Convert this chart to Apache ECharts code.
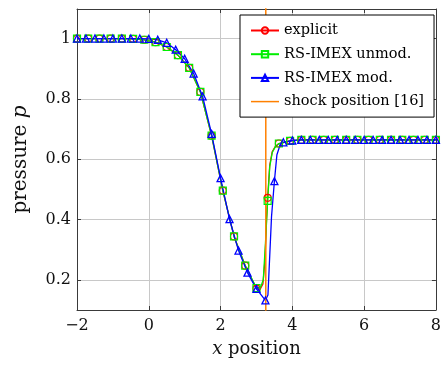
<!DOCTYPE html>
<html><head><meta charset="utf-8">
<script src="https://cdn.jsdelivr.net/npm/echarts@6/dist/echarts.min.js"></script>
<style>html,body{margin:0;padding:0;background:#fff}#c{width:444px;height:369px}</style>
</head><body><div id="c"></div>
<script>
// ---- data ----
const seriesNames = ['explicit', 'RS-IMEX unmod.', 'RS-IMEX mod.', 'shock position [16]'];
const xTickValues = [-2, 0, 2, 4, 6, 8];
const yTickValues = [0.2, 0.4, 0.6, 0.8, 1];

// marker positions for explicit / RS-IMEX unmod.
const squareX = [-2, -1.6875, -1.375, -1.0625, -0.75, -0.4375, -0.125, 0.1875, 0.5, 0.8125, 1.125, 1.4375, 1.75, 2.0625, 2.375, 2.6875, 3.0, 3.3125, 3.625, 3.9375, 4.25, 4.5625, 4.875, 5.1875, 5.5, 5.8125, 6.125, 6.4375, 6.75, 7.0625, 7.375, 7.6875, 8];
const explicitP = [1.0, 1.0, 1.0, 1.0, 1.0, 0.999, 0.996, 0.988, 0.972, 0.945, 0.903, 0.823, 0.678, 0.496, 0.344, 0.247, 0.171, 0.472, 0.652, 0.661, 0.664, 0.664, 0.664, 0.664, 0.664, 0.664, 0.664, 0.664, 0.664, 0.664, 0.664, 0.664, 0.664];
const unmodP = [1.0, 1.0, 1.0, 1.0, 1.0, 0.999, 0.996, 0.988, 0.972, 0.945, 0.903, 0.823, 0.678, 0.496, 0.344, 0.247, 0.173, 0.462, 0.652, 0.661, 0.664, 0.664, 0.664, 0.664, 0.664, 0.664, 0.664, 0.664, 0.664, 0.664, 0.664, 0.664, 0.664];
// unmarked line points near the shock
const explicitExtraX = [3.1, 3.18, 3.24, 3.28, 3.37, 3.44, 3.52];
const explicitExtraP = [0.168, 0.186, 0.27, 0.40, 0.58, 0.625, 0.641];
const unmodExtraX = [3.12, 3.19, 3.25, 3.37, 3.44, 3.52];
const unmodExtraP = [0.177, 0.20, 0.32, 0.575, 0.622, 0.64];

// marker positions for RS-IMEX mod.
const triangleX = [-2, -1.75, -1.5, -1.25, -1, -0.75, -0.5, -0.25, 0, 0.25, 0.5, 0.75, 1, 1.25, 1.5, 1.75, 2, 2.25, 2.5, 2.75, 3, 3.25, 3.5, 3.75, 4, 4.25, 4.5, 4.75, 5, 5.25, 5.5, 5.75, 6, 6.25, 6.5, 6.75, 7, 7.25, 7.5, 7.75, 8];
const modP = [1.0, 1.0, 1.0, 1.0, 1.0, 1.0, 1.0, 1.0, 0.999, 0.996, 0.986, 0.963, 0.933, 0.884, 0.808, 0.684, 0.537, 0.401, 0.297, 0.224, 0.170, 0.132, 0.527, 0.656, 0.662, 0.664, 0.664, 0.664, 0.664, 0.664, 0.664, 0.664, 0.664, 0.664, 0.664, 0.664, 0.664, 0.664, 0.664, 0.664, 0.664];
const modExtraX = [3.32, 3.37, 3.42, 3.57, 3.66];
const modExtraP = [0.15, 0.28, 0.41, 0.615, 0.648];

// shock position
const shockX = [3.26, 3.26];
const shockP = [0, 1.2];

// ---- build ----
function build(mx, mp, ex, ep) {
  const pts = mx.map((x, i) => ({ value: [x, mp[i]] }));
  ex.forEach((x, i) => pts.push({ value: [x, ep[i]], symbol: 'none' }));
  pts.sort((a, b) => a.value[0] - b.value[0]);
  return pts;
}
const FONT = 'DejaVu Serif';
const AXC = '#3a3a3a';
const GRIDC = '#c8c8c8';
const fmtX = v => (v < 0 ? '\u2212' + Math.abs(v) : String(v));
const fmtY = v => {
  const hit = yTickValues.some(t => Math.abs(t - v) < 1e-6);
  return hit ? String(+v.toFixed(1)) : '';
};

const chart = echarts.init(document.getElementById('c'), null, { renderer: 'canvas' });
const baseX = { type: 'value', min: -2, max: 8, interval: 2 };
const baseY = { type: 'value', min: 0.1, max: 1.098, splitNumber: 5 };
chart.setOption({
  animation: false,
  backgroundColor: '#fff',
  grid: { left: 77, right: 4, top: 9, bottom: 59, containLabel: false },
  legend: {
    orient: 'vertical', left: 240, top: 15,
    padding: [8, 10, 8, 10],
    itemWidth: 28, itemHeight: 8, itemGap: 8.7,
    backgroundColor: '#fff', borderColor: '#000', borderWidth: 1, borderRadius: 0,
    textStyle: { fontFamily: FONT, fontSize: 14.5, color: '#000', lineHeight: 14 },
    data: [
      { name: seriesNames[0] },
      { name: seriesNames[1] },
      { name: seriesNames[2] },
      { name: seriesNames[3], icon: 'path://M0,0H28V1.5H0Z', itemStyle: { color: '#ff8000', borderWidth: 0 } }
    ]
  },
  xAxis: [
    Object.assign({}, baseX, {
      position: 'bottom',
      axisLine: { show: true, onZero: false, lineStyle: { color: AXC, width: 1 } },
      axisTick: { show: true, inside: true, length: 4, lineStyle: { color: AXC } },
      axisLabel: { formatter: fmtX, fontFamily: FONT, fontSize: 16, color: '#111', margin: 8 },
      splitLine: { show: true, lineStyle: { color: GRIDC, width: 1 } },
      name: '{i|x} position', nameLocation: 'middle', nameGap: 30,
      nameTextStyle: { fontFamily: FONT, fontSize: 18, color: '#111',
        rich: { i: { fontFamily: FONT, fontSize: 18, fontStyle: 'italic', color: '#111' } } }
    }),
    Object.assign({}, baseX, {
      position: 'top',
      axisLine: { show: true, onZero: false, lineStyle: { color: AXC, width: 1 } },
      axisTick: { show: true, inside: true, length: 4, lineStyle: { color: AXC } },
      axisLabel: { show: false }, splitLine: { show: false }
    })
  ],
  yAxis: [
    Object.assign({}, baseY, {
      position: 'left',
      axisLine: { show: true, onZero: false, lineStyle: { color: AXC, width: 1 } },
      axisTick: { show: true, inside: true, length: 4, lineStyle: { color: AXC } },
      axisLabel: { formatter: fmtY, showMinLabel: false, showMaxLabel: false, fontFamily: FONT, fontSize: 16, color: '#111', margin: 6 },
      splitLine: { show: true, lineStyle: { color: GRIDC, width: 1 } },
      name: 'pressure {i|p}', nameLocation: 'middle', nameGap: 46,
      nameTextStyle: { fontFamily: FONT, fontSize: 20, color: '#111',
        rich: { i: { fontFamily: FONT, fontSize: 20, fontStyle: 'italic', color: '#111' } } }
    }),
    Object.assign({}, baseY, {
      position: 'right',
      axisLine: { show: true, onZero: false, lineStyle: { color: AXC, width: 1 } },
      axisTick: { show: true, inside: true, length: 4, lineStyle: { color: AXC } },
      axisLabel: { show: false }, splitLine: { show: false }
    })
  ],
  series: [
    {
      name: seriesNames[0], type: 'line', xAxisIndex: 0, yAxisIndex: 0,
      data: build(squareX, explicitP, explicitExtraX, explicitExtraP),
      symbol: 'circle', symbolSize: 7, showAllSymbol: true,
      lineStyle: { color: '#ff0000', width: 1.3 },
      itemStyle: { color: 'rgba(255,255,255,0)', borderColor: '#ff0000', borderWidth: 1.2 },
      emphasis: { disabled: true }
    },
    {
      name: seriesNames[1], type: 'line', xAxisIndex: 0, yAxisIndex: 0,
      data: build(squareX, unmodP, unmodExtraX, unmodExtraP),
      symbol: 'rect', symbolSize: 7, showAllSymbol: true,
      lineStyle: { color: '#00ee00', width: 1.3 },
      itemStyle: { color: 'rgba(255,255,255,0)', borderColor: '#00ee00', borderWidth: 1.2 },
      emphasis: { disabled: true }
    },
    {
      name: seriesNames[2], type: 'line', xAxisIndex: 0, yAxisIndex: 0,
      data: build(triangleX, modP, modExtraX, modExtraP),
      symbol: 'triangle', symbolSize: 7, showAllSymbol: true,
      lineStyle: { color: '#0000ff', width: 1.3 },
      itemStyle: { color: 'rgba(255,255,255,0)', borderColor: '#0000ff', borderWidth: 1.3 },
      emphasis: { disabled: true }
    },
    {
      name: seriesNames[3], type: 'line', xAxisIndex: 0, yAxisIndex: 0,
      data: shockX.map((x, i) => [x, shockP[i]]),
      symbol: 'none', clip: true,
      lineStyle: { color: '#ff8000', width: 1.5 },
      itemStyle: { color: '#ff8000' },
      emphasis: { disabled: true }
    }
  ]
});
</script>
</body></html>
